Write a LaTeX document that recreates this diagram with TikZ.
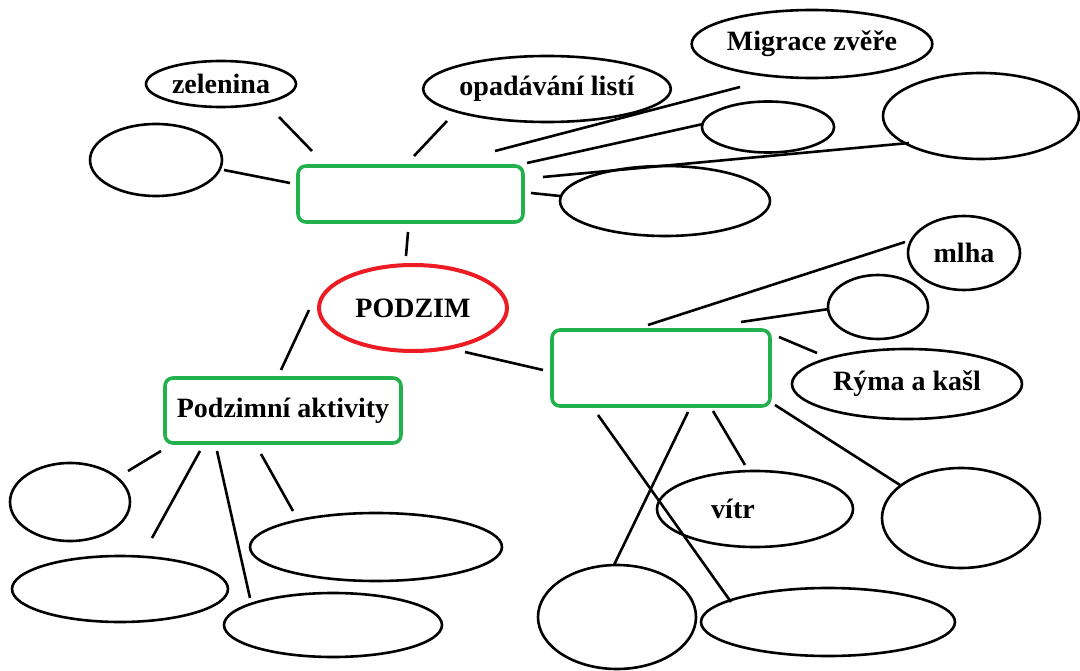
\documentclass[tikz,border=0pt]{standalone}
\usepackage{fontspec}
\setmainfont{Liberation Serif}
\definecolor{pgreen}{RGB}{34,177,76}
\definecolor{pred}{RGB}{237,28,36}
\usetikzlibrary{shapes.geometric}

\begin{document}
\begin{tikzpicture}[x=1pt,y=-1pt,
  bub/.style={draw,ellipse,line width=2.6pt,inner sep=0pt,font=\bfseries\fontsize{28}{32}\selectfont},
  cat/.style={draw=pgreen,line width=3.6pt,rounded corners=8pt,inner sep=0pt,font=\bfseries\fontsize{28}{32}\selectfont},
  link/.style={line width=2.6pt}]
  \useasboundingbox (0,0) rectangle (1080,671);
  % Main topic
  \node[bub,draw=pred,line width=4pt,minimum width=188,minimum height=86] (podzim) at (413,308) {PODZIM};
  % Category boxes
  \node[cat,minimum width=225,minimum height=56] (top) at (410.5,194) {};
  \node[cat,minimum width=236,minimum height=65] (akt) at (283,410.5) {Podzimní aktivity};
  \node[cat,minimum width=218,minimum height=76] (rbox) at (661,368) {};
  % Top group
  \node[bub,minimum width=150,minimum height=46] (zel) at (221,84) {zelenina};
  \node[bub,minimum width=132,minimum height=72] (lblank) at (156,160) {};
  \node[bub,minimum width=234,minimum height=66] (opad) at (547,89) {opadávání listí};
  \node[bub,minimum width=232,minimum height=68] (mig) at (812,44) {Migrace zvěře};
  \node[bub,minimum width=132,minimum height=51] (tmid) at (768,127) {};
  \node[bub,minimum width=196,minimum height=86] (tright) at (981,116) {};
  \node[bub,minimum width=210,minimum height=70] (tbelow) at (665,201) {};
  % Right group
  \node[bub,minimum width=112,minimum height=74] (mlha) at (964,253) {mlha};
  \node[bub,minimum width=100,minimum height=64] (rsmall) at (878,307) {};
  \node[bub,minimum width=230,minimum height=70] (ryma) at (907,384) {Rýma a kašl};
  \node[bub,minimum width=158,minimum height=100] (rlow) at (961,518) {};
  \node[bub,minimum width=196,minimum height=76] (vitr) at (755,509) {vítr\hspace*{44pt}};
  \node[bub,minimum width=158,minimum height=104] (bcirc) at (617,617) {};
  \node[bub,minimum width=254,minimum height=68] (bwide) at (828,622) {};
  % Left group
  \node[bub,minimum width=120,minimum height=78] (lsmall) at (70,502) {};
  \node[bub,minimum width=216,minimum height=66] (lbl) at (120,589) {};
  \node[bub,minimum width=252,minimum height=68] (wide) at (376,547) {};
  \node[bub,minimum width=218,minimum height=64] (bmid) at (333,625) {};
  % Connections
  \draw[link] ([shift={(58,33)}]zel.center) -- ([shift={(-98.5,-43)}]top.center);
  \draw[link] ([shift={(68,10)}]lblank.center) -- ([shift={(-120.5,-11)}]top.center);
  \draw[link] ([shift={(-100,32)}]opad.center) -- ([shift={(3.5,-38)}]top.center);
  \draw[link] ([shift={(84.5,-43)}]top.center) -- ([shift={(-72,43)}]mig.center);
  \draw[link] ([shift={(116.5,-31)}]top.center) -- ([shift={(-65,-3)}]tmid.center);
  \draw[link] ([shift={(132.5,-17)}]top.center) -- ([shift={(-72,27)}]tright.center);
  \draw[link] ([shift={(120.5,-1)}]top.center) -- ([shift={(-105,-5)}]tbelow.center);
  \draw[link] ([shift={(-2.5,38)}]top.center) -- ([shift={(-7,-52)}]podzim.center);
  \draw[link] ([shift={(-104,2)}]podzim.center) -- ([shift={(-2,-40.5)}]akt.center);
  \draw[link] ([shift={(52,44)}]podzim.center) -- ([shift={(-118,2)}]rbox.center);
  \draw[link] ([shift={(-122,40.5)}]akt.center) -- ([shift={(58,-31)}]lsmall.center);
  \draw[link] ([shift={(-83,40.5)}]akt.center) -- ([shift={(32,-51)}]lbl.center);
  \draw[link] ([shift={(-66,40.5)}]akt.center) -- ([shift={(-83,-27)}]bmid.center);
  \draw[link] ([shift={(-22,43.5)}]akt.center) -- ([shift={(-83,-36)}]wide.center);
  \draw[link] ([shift={(-13,-43)}]rbox.center) -- ([shift={(-59,-11)}]mlha.center);
  \draw[link] ([shift={(80,-46)}]rbox.center) -- ([shift={(-49,2)}]rsmall.center);
  \draw[link] ([shift={(118,-31)}]rbox.center) -- ([shift={(-90,-31)}]ryma.center);
  \draw[link] ([shift={(114,37)}]rbox.center) -- ([shift={(-61,-33)}]rlow.center);
  \draw[link] ([shift={(52,43)}]rbox.center) -- ([shift={(-10,-44)}]vitr.center);
  \draw[link] ([shift={(27,44)}]rbox.center) -- ([shift={(-3,-52)}]bcirc.center);
  \draw[link] ([shift={(-63,47)}]rbox.center) -- ([shift={(-97,-20)}]bwide.center);
\end{tikzpicture}
\end{document}
